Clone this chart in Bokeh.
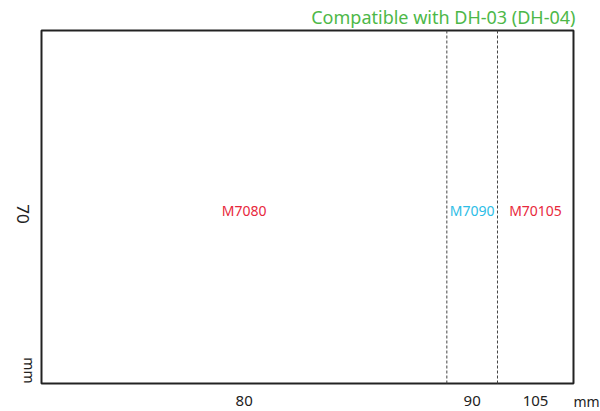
import math
from bokeh.plotting import figure
from bokeh.models import Range1d
from bokeh.core.properties import value
from bokeh.embed import file_html
from bokeh.resources import INLINE

# ---- data ----
sizes_mm = [80, 90, 105]            # widths (mm) of the three sizes
size_labels = ["80", "90", "105"]
model_names = ["M7080", "M7090", "M70105"]
model_colors = ["#e8283c", "#2cbde6", "#e8283c"]
height_mm = 70
height_label = "70"
unit = "mm"
title_text = "Compatible with DH-03 (DH-04)"

bounds = [0] + sizes_mm
mids = [(a + b) / 2 for a, b in zip(bounds[:-1], bounds[1:])]
FONT = value("Noto Sans")

p = figure(width=600, height=411,
           x_range=Range1d(-8.092, 110.33), y_range=Range1d(-5.552, 75.949),
           output_backend="svg", toolbar_location=None, min_border=0)
p.axis.visible = False
p.grid.visible = False
p.outline_line_color = None
p.background_fill_color = "white"

# outer rectangle
p.quad(left=[bounds[0]], right=[sizes_mm[-1]], bottom=[0], top=[height_mm],
       fill_color=None, line_color="#222222", line_width=2)

# dashed dividers
p.segment(x0=sizes_mm[:-1], y0=[0] * (len(sizes_mm) - 1),
          x1=sizes_mm[:-1], y1=[height_mm] * (len(sizes_mm) - 1),
          line_color="#444444", line_width=1, line_dash="3 2")

# model names
p.text(x=mids, y=[height_mm / 2] * len(mids), text=model_names,
       text_color=model_colors, text_font=FONT, text_font_size="14px",
       text_align="center", text_baseline="middle", y_offset=3)

# width labels
p.text(x=mids, y=[0] * len(mids), text=size_labels,
       text_color="#222222", text_font=FONT, text_font_size="15px",
       text_align="center", text_baseline="middle", y_offset=17)
p.text(x=[sizes_mm[-1]], y=[0], text=[unit],
       text_color="#222222", text_font=FONT, text_font_size="14px",
       text_align="left", text_baseline="middle", x_offset=0, y_offset=18)

# height labels (rotated)
p.text(x=[0], y=[height_mm / 2], text=[height_label], angle=-math.pi / 2,
       text_color="#222222", text_font=FONT, text_font_size="17px",
       text_align="center", text_baseline="middle", x_offset=-18, y_offset=7)
p.text(x=[0], y=[0], text=[unit], angle=-math.pi / 2,
       text_color="#222222", text_font=FONT, text_font_size="14px",
       text_align="right", text_baseline="middle", x_offset=-12)

# title
p.text(x=[sizes_mm[-1]], y=[height_mm], text=[title_text],
       text_color="#4db848", text_font=FONT, text_font_size="18px",
       text_align="right", text_baseline="middle", x_offset=2, y_offset=-14)

open("out.html", "w").write(file_html(p, INLINE))
